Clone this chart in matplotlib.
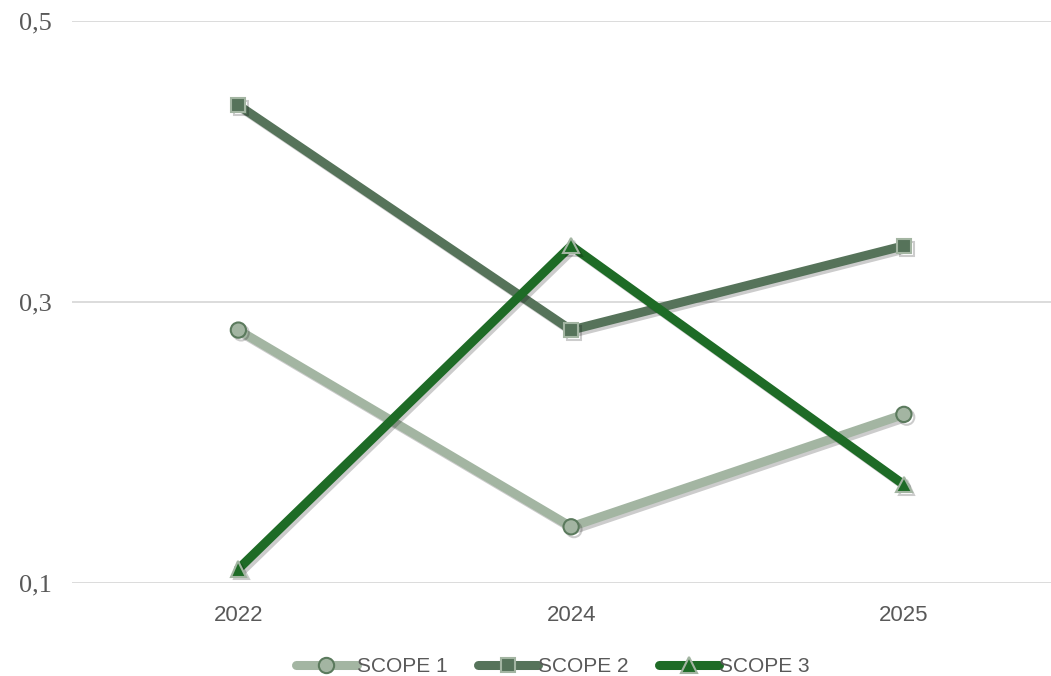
import matplotlib
matplotlib.use("Agg")
import matplotlib.pyplot as plt
import matplotlib.patheffects as pe

years = ["2022", "2024", "2025"]
scope1 = [0.28, 0.14, 0.22]
scope2 = [0.44, 0.28, 0.34]
scope3 = [0.11, 0.34, 0.17]
y_ticks = [0.1, 0.3, 0.5]
y_tick_labels = ["0,1", "0,3", "0,5"]

series = [
    ("SCOPE 1", scope1, "o", "#a3b5a2", "#a3b5a2", "#5b7a5d", 11),
    ("SCOPE 2", scope2, "s", "#56735a", "#56735a", "#a3b5a2", 10),
    ("SCOPE 3", scope3, "^", "#1e6b26", "#1e6b26", "#a3b5a2", 11),
]

fig = plt.figure(figsize=(10.51, 6.76), dpi=100)
ax = fig.add_axes([72 / 1051, 1 - 583 / 676, 1 - 72 / 1051, (583 - 21) / 676])

x = list(range(len(years)))
for name, vals, mk, lc, fc, ec, ms in series:
    ax.plot(x, vals, color=lc, lw=6.5, marker=mk, markersize=ms,
            markerfacecolor=fc, markeredgecolor=ec, markeredgewidth=1.5,
            solid_capstyle="round", solid_joinstyle="miter", label=name,
            clip_on=False, zorder=3,
            path_effects=[pe.SimpleLineShadow(offset=(2, -2), shadow_color="black",
                                              alpha=0.2),
                          pe.Normal()])

ax.set_xlim(-0.5, (1051 - 239) / 332.5)
ax.set_ylim(0.1, 0.5)
ax.set_xticks(x)
ax.set_xticklabels(years, fontsize=16, color="#595959", family="Liberation Sans")
ax.set_yticks(y_ticks)
ax.set_yticklabels(y_tick_labels, fontsize=19, color="#595959", family="Liberation Serif")
ax.tick_params(axis="both", length=0)
ax.tick_params(axis="x", pad=16)
ax.tick_params(axis="y", pad=14.5)
ax.grid(axis="y", color="#d9d9d9", lw=1.3)
ax.set_axisbelow(True)
for s in ax.spines.values():
    s.set_visible(False)

leg = fig.legend(loc="center", bbox_to_anchor=(553 / 1051, 1 - 667 / 676), ncol=3,
                 frameon=False, prop={"family": "Liberation Sans", "size": 15},
                 handlelength=2.9, handletextpad=0.0, columnspacing=1.45)
for t in leg.get_texts():
    t.set_color("#595959")
for h in leg.legend_handles:
    h.set_path_effects([])

fig.savefig("out.png", dpi=100)
